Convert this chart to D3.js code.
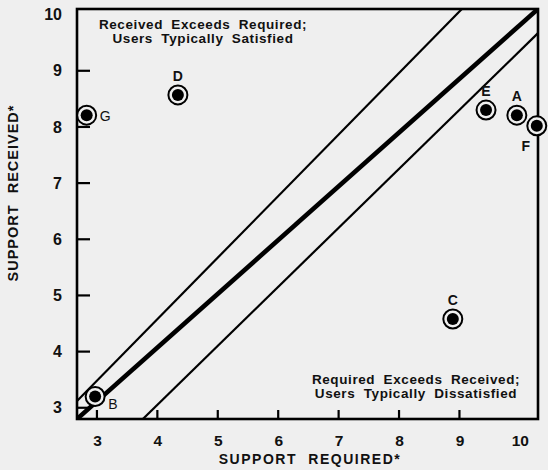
<!DOCTYPE html>
<html><head><meta charset="utf-8">
<script src="https://cdn.jsdelivr.net/npm/d3@7"></script>
<style>
html,body{margin:0;padding:0;background:#efefef;}
svg{display:block;font-family:"Liberation Sans",Arial,Helvetica,sans-serif;}
</style></head><body>
<svg id="c" width="548" height="470"></svg>
<script>
// ---- data ----
const labels = ["A","B","C","D","E","F","G"];
const required = [9.95, 2.97, 8.89, 4.34, 9.44, 10.28, 2.83];
const received = [8.21, 3.20, 4.58, 8.57, 8.30, 8.02, 8.21];
const xTickLabels = [3,4,5,6,7,8,9,10];
const yTickLabels = [3,4,5,6,7,8,9,10];
const xTickMarks = [3,4,5,6,7,8,9];
const yTickMarks = [3,4,5,6,7,8,9];
// reference lines: start and end points
const lineStart = [[2.67, 2.80], [2.67, 3.12], [3.76, 2.80]];
const lineEnd   = [[10.30, 10.10], [9.04, 10.10], [10.30, 9.67]];
const lineWeight = ["thick", "thin", "thin"];
// label placement relative to point
const labelPos = ["above","right","above","above","above","belowleft","right"];

const svg = d3.select("#c");
const L = 77, R = 538, T = 9, B = 419;
const x = d3.scaleLinear().domain([2.67, 10.30]).range([L, R]);
const y = d3.scaleLinear().domain([2.80, 10.10]).range([B, T]);

svg.append("rect").attr("width",548).attr("height",470).attr("fill","#efefef");

const g = svg.append("g");
g.append("clipPath").attr("id","clip").append("rect")
  .attr("x",L).attr("y",T).attr("width",R-L).attr("height",B-T);

// reference lines
const lg = g.append("g").attr("clip-path","url(#clip)");
lineStart.forEach((s,i)=>{
  lg.append("line")
    .attr("x1",x(s[0])).attr("y1",y(s[1]))
    .attr("x2",x(lineEnd[i][0])).attr("y2",y(lineEnd[i][1]))
    .attr("stroke","#000")
    .attr("stroke-width", lineWeight[i]==="thick"?4.6:2.2);
});

// frame
g.append("rect").attr("x",L).attr("y",T).attr("width",R-L).attr("height",B-T)
  .attr("fill","none").attr("stroke","#000").attr("stroke-width",2.6);

// tick marks
g.selectAll(".xt").data(xTickMarks).join("line")
  .attr("x1",d=>x(d)).attr("x2",d=>x(d)).attr("y1",B).attr("y2",B-9)
  .attr("stroke","#000").attr("stroke-width",2.2);
g.selectAll(".yt").data(yTickMarks).join("line")
  .attr("x1",L).attr("x2",L+13).attr("y1",d=>y(d)).attr("y2",d=>y(d))
  .attr("stroke","#000").attr("stroke-width",2.2);

// axes (labels only)
const xa = d3.axisBottom(x).tickValues(xTickLabels).tickSize(0).tickPadding(0).tickFormat(d3.format("d"));
const gx = svg.append("g").attr("transform",`translate(0,${B+16})`).call(xa);
gx.select(".domain").remove();
gx.selectAll("text").attr("font-size",15.5).attr("font-weight","bold").attr("fill","#111")
  .attr("font-family","Liberation Sans, Arial, sans-serif");

const ya = d3.axisLeft(y).tickValues(yTickLabels).tickSize(0).tickPadding(0).tickFormat(d3.format("d"));
const gy = svg.append("g").attr("transform",`translate(62,0)`).call(ya);
gy.select(".domain").remove();
gy.selectAll("text").attr("font-size",16).attr("font-weight","bold").attr("fill","#111")
  .attr("font-family","Liberation Sans, Arial, sans-serif");

// axis titles
svg.append("text").attr("x",310).attr("y",464).attr("text-anchor","middle")
  .attr("font-size",14).attr("font-weight","bold").attr("letter-spacing","1.5px")
  .attr("word-spacing","6px").attr("fill","#111").text("SUPPORT REQUIRED*");
svg.append("text").attr("transform","translate(18,193) rotate(-90)").attr("text-anchor","middle")
  .attr("font-size",14.5).attr("font-weight","bold").attr("letter-spacing","1.0px")
  .attr("word-spacing","6px").attr("fill","#111").text("SUPPORT RECEIVED*");

// quadrant notes
const note = (cx, y0, lines) => {
  lines.forEach((t,i)=>{
    svg.append("text").attr("x",cx).attr("y",y0+i*14).attr("text-anchor","middle")
      .attr("font-size",13.5).attr("font-weight","bold").attr("letter-spacing","0.6px")
      .attr("word-spacing","4px").attr("fill","#111").text(t);
  });
};
note(203, 29, ["Received Exceeds Required;","Users Typically Satisfied"]);
note(416, 384, ["Required Exceeds Received;","Users Typically Dissatisfied"]);

// points
const pts = svg.append("g");
labels.forEach((lab,i)=>{
  const cx = x(required[i]), cy = y(received[i]);
  pts.append("circle").attr("cx",cx).attr("cy",cy).attr("r",9.5)
    .attr("fill","#efefef").attr("stroke","#000").attr("stroke-width",2);
  pts.append("circle").attr("cx",cx).attr("cy",cy).attr("r",6).attr("fill","#000");
  let tx=cx, ty=cy, anchor="middle";
  if (labelPos[i]==="above"){ ty = cy-14; }
  else if (labelPos[i]==="right"){ tx = cx+13; ty = cy+6+ (lab==="B"?6:0); anchor="start"; }
  else if (labelPos[i]==="belowleft"){ tx = cx-11; ty = cy+25; }
  pts.append("text").attr("x",tx).attr("y",ty).attr("text-anchor",anchor)
    .attr("font-size",14).attr("font-weight", lab==="B"||lab==="G" ? "normal":"bold")
    .attr("fill","#111").text(lab);
});
</script>
</body></html>
